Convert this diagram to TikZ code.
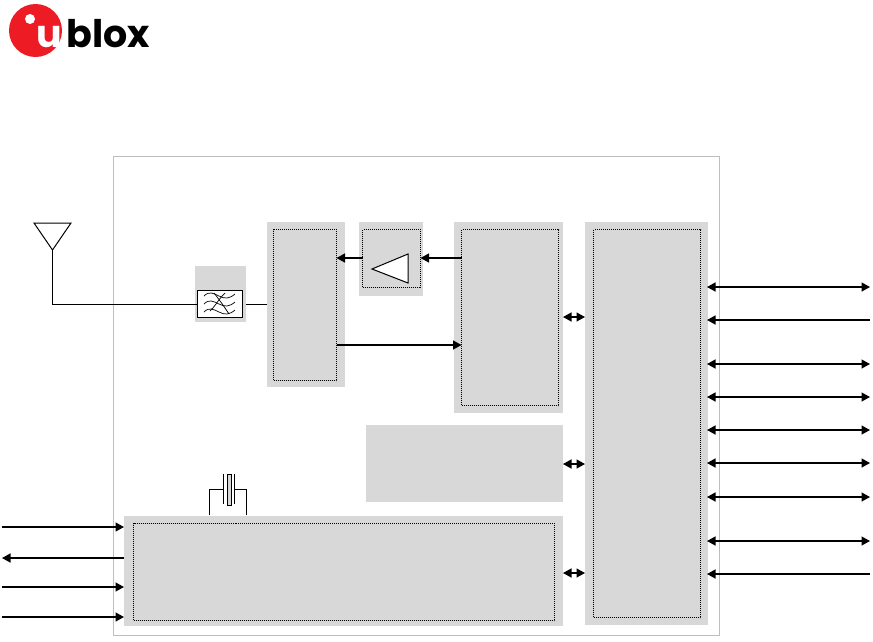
\documentclass[tikz,border=0pt]{standalone}
\usepackage{fontspec}
\setmainfont{Poppins}
\usetikzlibrary{arrows.meta}
\definecolor{panel}{RGB}{216,216,216}
\definecolor{frame}{RGB}{190,190,190}
\definecolor{ublored}{RGB}{237,28,36}
\tikzset{
  x=1pt,y=-1pt,
  greybox/.style={fill=panel,draw=none,inner sep=0pt,outer sep=0pt,anchor=north west},
  dotbox/.style={draw=black,dash pattern=on 1pt off 1pt,line width=1.2pt,fill=none,inner sep=0pt,outer sep=0pt,anchor=north west},
  wire/.style={draw=black,line width=1pt},
  sig/.style={draw=black,line width=1.4pt},
  fwd/.style={sig,-{Triangle[length=8.5pt,width=9pt]}},
  bwd/.style={sig,{Triangle[length=8.5pt,width=9pt]}-},
  both/.style={sig,{Triangle[length=8.5pt,width=9pt]}-{Triangle[length=8.5pt,width=9pt]}},
}
\newcommand{\pbox}[5]{\node[#1,minimum width=#4pt,minimum height=#5pt] (#2) at #3 {};}
\begin{document}
\begin{tikzpicture}
\useasboundingbox (0,0) rectangle (873,641);
% logo
\node[circle,fill=ublored,minimum size=53pt,inner sep=0pt] (logoc) at (35.5,30.5) {};
\node[circle,fill=white,minimum size=10pt,inner sep=0pt] (logod) at (30,19) {};
\node[anchor=base west,inner sep=0pt,font=\fontsize{38}{38}\selectfont\bfseries,text=white] (logou) at (36,47) {u};
\node[anchor=base west,inner sep=0pt,font=\fontsize{38}{38}\selectfont\bfseries] (logot) at (66,47) {blox};
% frame
\node[greybox,fill=none,draw=frame,line width=1pt,minimum width=606pt,minimum height=479pt] (module) at (113.5,156.5) {};
% grey panels
\pbox{greybox}{filterg}{(195,266)}{51}{56}
\pbox{greybox}{swg}{(267,222)}{78}{165}
\pbox{greybox}{ampg}{(358.5,222)}{64.5}{74}
\pbox{greybox}{rfg}{(454,222)}{109}{191}
\pbox{greybox}{memg}{(366,425)}{197}{77}
\pbox{greybox}{pmg}{(124,516)}{439}{110}
\pbox{greybox}{ifg}{(585,222)}{123}{403}
% dotted
\pbox{dotbox}{sw}{(273.5,229.5)}{63}{151}
\pbox{dotbox}{amp}{(362.5,229.5)}{58}{58}
\pbox{dotbox}{rf}{(461.5,229.5)}{97}{176}
\pbox{dotbox}{pm}{(133.5,523.5)}{421}{97}
\pbox{dotbox}{ifc}{(593.5,229.5)}{107}{388}
% antenna
\coordinate (ant1) at (34,223);
\coordinate (ant2) at (71,223);
\coordinate (antt) at (52.5,250);
\coordinate (antb) at (52.5,304);
\coordinate (line) at (0,304);
\draw[wire] (ant1) -- (ant2) -- (antt) -- cycle;
\node[draw=black,fill=white,line width=1pt,inner sep=0pt,anchor=north west,minimum width=45pt,minimum height=27pt] (filter) at (197,290) {};
\draw[wire] (antt) -- (antb) -- (filter.west |- line);
\draw[wire] (filterg.east |- line) -- (swg.west |- line);
% filter symbol
\foreach \yy in {296,304,312}{
  \draw[black,line width=0.7pt] (204,\yy) .. controls (209,\yy-5) and (213,\yy-3) .. (219,\yy) .. controls (225,\yy+3) and (229,\yy+3) .. (235,\yy-2);
}
\draw[black,line width=0.7pt] (214,293) .. controls (218,298) and (220,301) .. (223,305) .. controls (225,308) and (227,311) .. (229,314);
\draw[black,line width=0.7pt] (225,293) .. controls (221,297) and (218,301) .. (216,304) .. controls (214,307) and (212,309) .. (210,311);
% amplifier triangle
\coordinate (tip) at (372,269);
\coordinate (bt) at (408,254);
\coordinate (bb) at (408,283);
\draw[draw=black,fill=white,line width=1pt] (tip) -- (bt) -- (bb) -- cycle;
% internal arrows
\draw[fwd] (amp.west |- 0,258) -- (sw.east |- 0,258);
\draw[fwd] (rf.west |- 0,258) -- (amp.east |- 0,258);
\draw[fwd] (sw.east |- 0,345) -- (rf.west |- 0,345);
\draw[both] (rfg.east |- 0,317) -- (ifg.west |- 0,317);
\draw[both] (memg.east |- 0,464) -- (ifg.west |- 0,464);
\draw[both] (pmg.east |- 0,573) -- (ifg.west |- 0,573);
% right signals
\foreach \n/\yy/\st in {a/287/both,b/320/bwd,c/364/both,d/397/both,e/430/both,f/463/both,g/497/both,h/541/both,i/574/bwd}{
  \coordinate (r\n) at (870,\yy);
  \draw[\st] ([xshift=-1pt]ifg.east |- r\n) -- (r\n);
}
% left signals
\foreach \n/\yy/\st in {a/527/fwd,b/558/bwd,c/587/fwd,d/617/fwd}{
  \coordinate (l\n) at (2,\yy);
  \draw[\st] (l\n) -- (pmg.west |- l\n);
}
% crystal
\coordinate (xl) at (209,515);
\coordinate (xr) at (246.5,515);
\coordinate (xlt) at (209,489);
\coordinate (xrt) at (246.5,489);
\coordinate (pl) at (223,489);
\coordinate (pr) at (234,489);
\draw[wire] (xl) -- (xlt) -- (pl);
\draw[wire] (xr) -- (xrt) -- (pr);
\draw[wire] (223,474) -- (223,504);
\draw[wire] (234,474) -- (234,504);
\node[draw=black,fill=panel,line width=1pt,inner sep=0pt,anchor=north west,minimum width=4pt,minimum height=31pt] (xtal) at (226.7,474) {};
\end{tikzpicture}
\end{document}
